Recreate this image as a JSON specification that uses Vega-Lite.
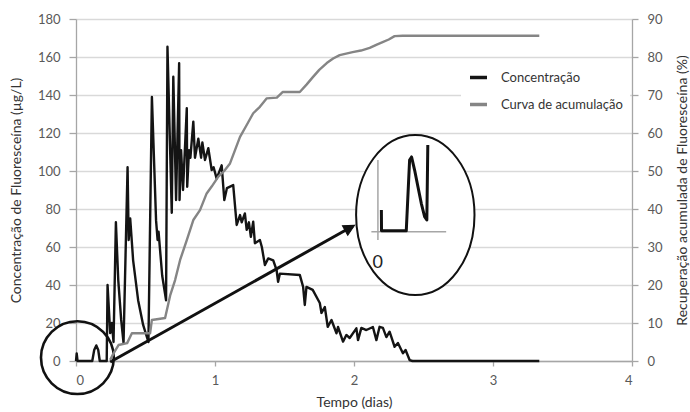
{
  "$schema": "https://vega.github.io/schema/vega-lite/v6.json",
  "width": 556,
  "height": 342,
  "autosize": {"type": "none"},
  "padding": {"left": 76, "top": 19, "right": 58, "bottom": 51},
  "background": "white",
  "config": {
    "font": "Lato",
    "view": {"stroke": null},
    "axis": {
      "labelFont": "Lato", "labelFontSize": 13, "labelColor": "#595959",
      "titleFont": "Lato", "titleFontSize": 14, "titleFontWeight": "normal", "titleColor": "#333333",
      "domainColor": "#a6a6a6", "tickColor": "#a6a6a6", "domainWidth": 1.3, "tickWidth": 1.3
    },
    "legend": {
      "orient": "none", "legendX": 385, "legendY": 41, "padding": 7, "fillColor": "white",
      "symbolType": "stroke", "symbolSize": 289, "symbolStrokeWidth": 3.5,
      "labelFont": "Lato", "labelFontSize": 13, "labelColor": "#333333", "labelOffset": 12, "rowPadding": 9
    }
  },
  "datasets": {
    "conc": [
      {"d": 0, "v": 0}, {"d": 0.005, "v": 4}, {"d": 0.011, "v": 0}, {"d": 0.117, "v": 0},
      {"d": 0.131, "v": 5.8}, {"d": 0.146, "v": 8.2}, {"d": 0.16, "v": 5.8}, {"d": 0.171, "v": 0},
      {"d": 0.221, "v": 0}, {"d": 0.227, "v": 40}, {"d": 0.246, "v": 14.7}, {"d": 0.258, "v": 20},
      {"d": 0.27, "v": 10}, {"d": 0.287, "v": 73}, {"d": 0.304, "v": 42.6}, {"d": 0.325, "v": 21.6},
      {"d": 0.342, "v": 9.5}, {"d": 0.371, "v": 102}, {"d": 0.379, "v": 63.7}, {"d": 0.39, "v": 75},
      {"d": 0.411, "v": 53}, {"d": 0.447, "v": 32}, {"d": 0.483, "v": 19}, {"d": 0.521, "v": 10},
      {"d": 0.546, "v": 139}, {"d": 0.576, "v": 74}, {"d": 0.587, "v": 63.7}, {"d": 0.594, "v": 68},
      {"d": 0.62, "v": 45}, {"d": 0.648, "v": 32}, {"d": 0.658, "v": 165.4}, {"d": 0.689, "v": 78},
      {"d": 0.70, "v": 149.6}, {"d": 0.72, "v": 84.7}, {"d": 0.742, "v": 156.7}, {"d": 0.745, "v": 84.7},
      {"d": 0.756, "v": 111}, {"d": 0.77, "v": 90}, {"d": 0.797, "v": 133}, {"d": 0.8, "v": 91.7},
      {"d": 0.813, "v": 111}, {"d": 0.823, "v": 107}, {"d": 0.844, "v": 126}, {"d": 0.856, "v": 107},
      {"d": 0.88, "v": 117}, {"d": 0.9, "v": 107}, {"d": 0.909, "v": 115}, {"d": 0.928, "v": 105.8},
      {"d": 0.952, "v": 112}, {"d": 0.976, "v": 100.5}, {"d": 0.99, "v": 102}, {"d": 1.012, "v": 96},
      {"d": 1.048, "v": 103}, {"d": 1.067, "v": 84.7}, {"d": 1.086, "v": 91}, {"d": 1.131, "v": 92.6},
      {"d": 1.156, "v": 71.6}, {"d": 1.18, "v": 76.8}, {"d": 1.192, "v": 73}, {"d": 1.215, "v": 77.7},
      {"d": 1.228, "v": 69}, {"d": 1.244, "v": 73}, {"d": 1.258, "v": 65.4}, {"d": 1.275, "v": 73.3},
      {"d": 1.287, "v": 62}, {"d": 1.323, "v": 63.7}, {"d": 1.337, "v": 60}, {"d": 1.359, "v": 50.5},
      {"d": 1.383, "v": 54}, {"d": 1.419, "v": 53}, {"d": 1.443, "v": 47.9}, {"d": 1.454, "v": 41.7},
      {"d": 1.467, "v": 46}, {"d": 1.61, "v": 45.3}, {"d": 1.634, "v": 39}, {"d": 1.646, "v": 29.5},
      {"d": 1.658, "v": 39}, {"d": 1.703, "v": 37.4}, {"d": 1.754, "v": 30.5}, {"d": 1.766, "v": 25.3},
      {"d": 1.79, "v": 28.4}, {"d": 1.811, "v": 18}, {"d": 1.838, "v": 21.6}, {"d": 1.874, "v": 14.6},
      {"d": 1.885, "v": 17.9}, {"d": 1.921, "v": 10.2}, {"d": 1.945, "v": 13.7}, {"d": 1.969, "v": 12.1},
      {"d": 2.017, "v": 17.2}, {"d": 2.029, "v": 11}, {"d": 2.053, "v": 17.4}, {"d": 2.089, "v": 16.3},
      {"d": 2.136, "v": 17.9}, {"d": 2.161, "v": 11}, {"d": 2.184, "v": 18}, {"d": 2.208, "v": 17.4},
      {"d": 2.233, "v": 12.6}, {"d": 2.256, "v": 15.4}, {"d": 2.292, "v": 7.5}, {"d": 2.316, "v": 9.5},
      {"d": 2.352, "v": 4.1}, {"d": 2.371, "v": 5.8}, {"d": 2.40, "v": 0.5}, {"d": 2.421, "v": 0},
      {"d": 3.333, "v": 0}
    ],
    "cum": [
      {"d": 0.246, "r": 0.3}, {"d": 0.27, "r": 2.0}, {"d": 0.306, "r": 4.2}, {"d": 0.368, "r": 4.7},
      {"d": 0.402, "r": 7.3}, {"d": 0.533, "r": 7.3}, {"d": 0.546, "r": 10.8}, {"d": 0.641, "r": 11.3},
      {"d": 0.677, "r": 17.2}, {"d": 0.713, "r": 21.3}, {"d": 0.749, "r": 26.6}, {"d": 0.797, "r": 31.8},
      {"d": 0.844, "r": 37.1}, {"d": 0.892, "r": 39.7}, {"d": 0.94, "r": 44.1}, {"d": 0.976, "r": 45.9},
      {"d": 1.024, "r": 48.5}, {"d": 1.066, "r": 50.0}, {"d": 1.108, "r": 52.0}, {"d": 1.144, "r": 55.5},
      {"d": 1.18, "r": 59.0}, {"d": 1.228, "r": 62.1}, {"d": 1.275, "r": 65.2}, {"d": 1.323, "r": 66.9},
      {"d": 1.371, "r": 69.1}, {"d": 1.445, "r": 69.3}, {"d": 1.488, "r": 70.8}, {"d": 1.61, "r": 70.8},
      {"d": 1.66, "r": 72.8}, {"d": 1.704, "r": 74.7}, {"d": 1.75, "r": 76.6}, {"d": 1.804, "r": 78.4},
      {"d": 1.85, "r": 79.6}, {"d": 1.897, "r": 80.5}, {"d": 1.99, "r": 81.3}, {"d": 2.05, "r": 81.7},
      {"d": 2.113, "r": 82.4}, {"d": 2.16, "r": 83.2}, {"d": 2.206, "r": 83.9}, {"d": 2.25, "r": 84.6},
      {"d": 2.292, "r": 85.5}, {"d": 2.35, "r": 85.6}, {"d": 3.333, "r": 85.6}
    ],
    "insetLine": [
      {"d": 2.197, "v": 79.5}, {"d": 2.198, "v": 68.5}, {"d": 2.376, "v": 68.5}, {"d": 2.40, "v": 105.8},
      {"d": 2.414, "v": 107.4}, {"d": 2.436, "v": 100.5}, {"d": 2.46, "v": 91.7}, {"d": 2.484, "v": 83},
      {"d": 2.508, "v": 76}, {"d": 2.524, "v": 74.2}, {"d": 2.531, "v": 113.7}
    ]
  },
  "layer": [
    {
      "encoding": {
        "x": {"field": "d", "type": "quantitative", "scale": {"domain": [0, 4], "nice": false},
          "axis": {"title": "Tempo (dias)", "values": [0, 1, 2, 3, 4], "format": "d", "grid": false,
            "tickSize": 5, "labelPadding": 8, "titlePadding": 8}},
        "y": {"field": "v", "type": "quantitative", "scale": {"domain": [0, 180], "nice": false},
          "axis": {"title": "Concentração de Fluoresceína (µg/L)", "values": [0, 20, 40, 60, 80, 100, 120, 140, 160, 180],
            "grid": true, "gridColor": "#d9d9d9", "gridWidth": 1.5, "tickSize": 7, "labelPadding": 9, "titlePadding": 14}}
      },
      "layer": [
        {
          "data": {"name": "conc"},
          "mark": {"type": "line", "strokeWidth": 2.4, "strokeJoin": "round"},
          "encoding": {
            "color": {"datum": "Concentração", "type": "nominal",
              "scale": {"domain": ["Concentração", "Curva de acumulação"], "range": ["#141414", "#858585"]},
              "legend": {"title": null}}
          }
        },
        {
          "data": {"values": [{"d": 0.01, "v": 1.8}]},
          "mark": {"type": "point", "shape": "circle", "size": 5300, "filled": false, "stroke": "#111111", "strokeWidth": 2.6, "opacity": 1}
        },
        {
          "data": {"values": [{"d": 0.246, "v": -0.5, "d2": 1.99, "v2": 70.9}]},
          "mark": {"type": "rule", "stroke": "#111111", "strokeWidth": 3},
          "encoding": {
            "x2": {"field": "d2"},
            "y2": {"field": "v2"}
          }
        },
        {
          "data": {"values": [{"d": 2.005, "v": 71.5}]},
          "mark": {"type": "point", "shape": "M0,0L-1,-0.5L-1,0.5Z", "size": 484, "angle": 331, "filled": true, "fill": "#111111", "stroke": "#111111", "strokeWidth": 1, "opacity": 1}
        },
        {
          "data": {"values": [{"d": 2.441, "v": 76.8}]},
          "mark": {"type": "point", "shape": "M-0.74,0A0.74,1,0,1,0,0.74,0A0.74,1,0,1,0,-0.74,0Z", "size": 25600, "filled": true, "fill": "white", "stroke": "#111111", "strokeWidth": 2, "opacity": 1}
        },
        {
          "data": {"values": [{"d": 2.172, "d2": 2.172, "v": 63.7, "v2": 105.8}, {"d": 2.125, "d2": 2.663, "v": 68, "v2": 68}]},
          "mark": {"type": "rule", "stroke": "#a6a6a6", "strokeWidth": 1.5},
          "encoding": {
            "x2": {"field": "d2"},
            "y2": {"field": "v2"}
          }
        },
        {
          "data": {"name": "insetLine"},
          "mark": {"type": "line", "stroke": "#111111", "strokeWidth": 3, "strokeJoin": "round"}
        },
        {
          "data": {"values": [{"d": 2.17, "v": 51.6, "t": "0"}]},
          "mark": {"type": "text", "font": "Lato", "fontSize": 18, "color": "#222222"},
          "encoding": {
            "text": {"field": "t"}
          }
        }
      ]
    },
    {
      "data": {"name": "cum"},
      "mark": {"type": "line", "strokeWidth": 2.4, "strokeJoin": "round"},
      "encoding": {
        "x": {"field": "d", "type": "quantitative", "scale": {"domain": [0, 4], "nice": false},
          "axis": {"title": "Tempo (dias)", "values": [0, 1, 2, 3, 4], "format": "d", "grid": false,
            "tickSize": 5, "labelPadding": 8, "titlePadding": 8}},
        "y": {"field": "r", "type": "quantitative", "scale": {"domain": [0, 90], "nice": false},
          "axis": {"orient": "right", "title": "Recuperação acumulada de Fluoresceína (%)", "values": [0, 10, 20, 30, 40, 50, 60, 70, 80, 90],
            "grid": false, "titleAngle": 270, "tickSize": 6, "labelPadding": 9, "titlePadding": 27}},
        "color": {"datum": "Curva de acumulação", "type": "nominal"}
      }
    }
  ],
  "resolve": {"scale": {"y": "independent"}}
}
